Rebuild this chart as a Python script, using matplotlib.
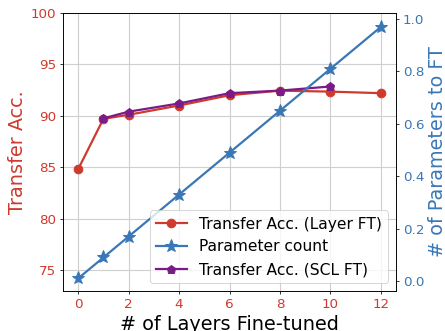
import matplotlib
matplotlib.use("Agg")
import matplotlib.pyplot as plt

layers = [0, 1, 2, 4, 6, 8, 10, 12]
acc_layer_ft = [84.8, 89.7, 90.1, 91.0, 92.0, 92.45, 92.35, 92.2]
param_frac = [0.01, 0.09, 0.17, 0.33, 0.49, 0.65, 0.81, 0.97]
layers_scl = [1, 2, 4, 6, 8, 10]
acc_scl_ft = [89.75, 90.4, 91.2, 92.2, 92.45, 92.85]
xticks = [0, 2, 4, 6, 8, 10, 12]

RED = "#cf3a2e"
BLUE = "#3a77b6"
PURPLE = "#7a1b88"

DPI = 69.53
fig = plt.figure(figsize=(445 / DPI, 331 / DPI), dpi=DPI)
ax1 = fig.add_axes([0.1416, 0.1208, 0.7483, 0.8399])
ax2 = ax1.twinx()

ax1.grid(True, color="#d0d0d0", linewidth=1.2)
ax1.set_axisbelow(True)

l1, = ax1.plot(layers, acc_layer_ft, color=RED, marker="o", markersize=9,
               linewidth=2.3, label="Transfer Acc. (Layer FT)")
l3, = ax1.plot(layers_scl, acc_scl_ft, color=PURPLE, marker="p", markersize=9,
               linewidth=2.3, label="Transfer Acc. (SCL FT)")
l2, = ax2.plot(layers, param_frac, color=BLUE, marker="*", markersize=14,
               linewidth=2.3, label="Parameter count")

ax1.set_ylim(72.95, 100)
ax1.set_yticks([75, 80, 85, 90, 95, 100])
ax1.set_xticks(xticks)
ax1.set_xlim(-0.6, 12.6)
ax2.set_ylim(-0.038, 1.023)
ax2.set_yticks([0.0, 0.2, 0.4, 0.6, 0.8, 1.0])

ax1.tick_params(axis="both", labelsize=14, labelcolor=RED)
ax2.tick_params(axis="y", labelsize=14, labelcolor=BLUE)

ax1.set_ylabel("Transfer Acc.", color=RED, fontsize=20)
ax2.set_ylabel("# of Parameters to FT", color=BLUE, fontsize=20)
ax1.set_xlabel("# of Layers Fine-tuned", fontsize=20)

ax2.legend([l1, l2, l3], [l.get_label() for l in (l1, l2, l3)],
           loc="lower right", fontsize=16, framealpha=0.8)

fig.savefig("out.png", dpi=DPI)
